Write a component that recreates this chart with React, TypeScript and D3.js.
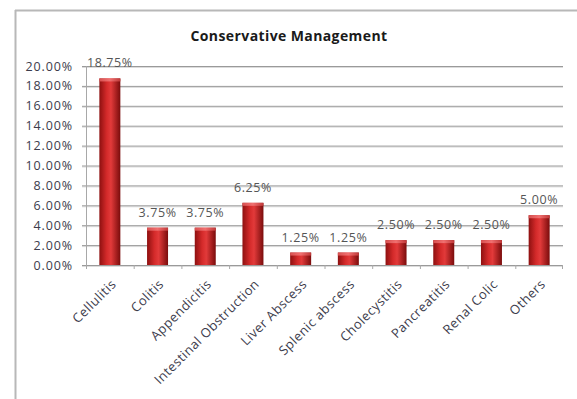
import React from "react";
import * as d3 from "d3";

const categories = [
  "Cellulitis",
  "Colitis",
  "Appendicitis",
  "Intestinal Obstruction",
  "Liver Abscess",
  "Splenic abscess",
  "Cholecystitis",
  "Pancreatitis",
  "Renal Colic",
  "Others",
];
const values = [18.75, 3.75, 3.75, 6.25, 1.25, 1.25, 2.5, 2.5, 2.5, 5.0];
const yTicks = [0, 2, 4, 6, 8, 10, 12, 14, 16, 18, 20];
const title = "Conservative Management";

const W = 577;
const H = 399;
const plot = { left: 86, right: 563, top: 66, bottom: 265 };
const font = "'Open Sans', 'Liberation Sans', sans-serif";

export default function App() {
  const x = d3
    .scaleBand<string>()
    .domain(categories)
    .range([plot.left, plot.right])
    .paddingInner(0.56)
    .paddingOuter(0.28);
  const band = d3.scaleBand<string>().domain(categories).range([plot.left, plot.right]);
  const y = d3.scaleLinear().domain([0, 20]).range([plot.bottom, plot.top]);
  const bw = x.bandwidth();

  return (
    <div style={{ position: "absolute", left: 0, top: 0, width: W, height: H, background: "#fff" }}>
      <svg width={W} height={H} style={{ display: "block" }}>
        <defs>
          <linearGradient id="barg" x1="0" x2="1" y1="0" y2="0">
            <stop offset="0" stopColor="#8e1010" />
            <stop offset="0.35" stopColor="#d42a2a" />
            <stop offset="0.55" stopColor="#e23a3a" />
            <stop offset="1" stopColor="#7a0c0c" />
          </linearGradient>
          <linearGradient id="topg" x1="0" x2="1" y1="0" y2="0">
            <stop offset="0" stopColor="#d85050" />
            <stop offset="0.5" stopColor="#f07070" />
            <stop offset="1" stopColor="#c03838" />
          </linearGradient>
        </defs>
        <rect x={0} y={0} width={W} height={H} fill="#fff" />
        {/* frame */}
        <line x1={15.5} x2={15.5} y1={10} y2={H} stroke="#b8b8b8" strokeWidth={2} />
        <line x1={15} x2={W} y1={10.5} y2={10.5} stroke="#b8b8b8" strokeWidth={2} />

        <text x={289} y={41} textAnchor="middle" fontFamily={font} fontWeight="bold" fontSize={14} letterSpacing={0.4} fill="#1a1a1a">
          {title}
        </text>

        {/* gridlines */}
        {yTicks.map((t) => (
          <g key={t}>
            <line x1={plot.left - 4} x2={plot.right} y1={y(t) + 1.5} y2={y(t) + 1.5} stroke="#dcdcdc" strokeWidth={1} />
            <line x1={plot.left - 4} x2={plot.right} y1={y(t) + 0.5} y2={y(t) + 0.5} stroke="#9a9a9a" strokeWidth={1} />
            <text x={73} y={y(t) + 4.5} textAnchor="end" fontFamily={font} fontSize={12.5} letterSpacing={0.9} fill="#3c3c4c">
              {t.toFixed(2)}%
            </text>
          </g>
        ))}
        {/* y axis */}
        <line x1={plot.left + 0.5} x2={plot.left + 0.5} y1={plot.top} y2={plot.bottom} stroke="#a8a8a8" />
        {/* x ticks */}
        {categories.map((c) => (
          <line key={c} x1={(band(c) as number) + 0.5} x2={(band(c) as number) + 0.5} y1={plot.bottom} y2={plot.bottom + 4} stroke="#a8a8a8" />
        ))}
        <line x1={plot.right - 0.5} x2={plot.right - 0.5} y1={plot.bottom} y2={plot.bottom + 4} stroke="#a8a8a8" />

        {/* bars */}
        {categories.map((c, i) => {
          const bx = x(c) as number;
          const by = y(values[i]);
          return (
            <g key={c}>
              <rect x={bx} y={by} width={bw} height={plot.bottom - by} fill="url(#barg)" />
              <rect x={bx} y={by} width={bw} height={3} fill="url(#topg)" />
              <text
                x={(band(c) as number) + band.bandwidth() / 2}
                y={by - 11}
                textAnchor="middle"
                fontFamily={font}
                fontSize={12.5}
                letterSpacing={0.6}
                fill="#555"
              >
                {values[i].toFixed(2)}%
              </text>
            </g>
          );
        })}

        {/* x labels */}
        {categories.map((c) => {
          const cx = (band(c) as number) + band.bandwidth() / 2 + 7;
          const cy = plot.bottom + 20;
          return (
            <text
              key={c}
              x={cx}
              y={cy}
              transform={`rotate(-45 ${cx} ${cy})`}
              textAnchor="end"
              fontFamily={font}
              fontSize={13}
              letterSpacing={0.45}
              fill="#3c3c4c"
            >
              {c}
            </text>
          );
        })}
      </svg>
    </div>
  );
}
